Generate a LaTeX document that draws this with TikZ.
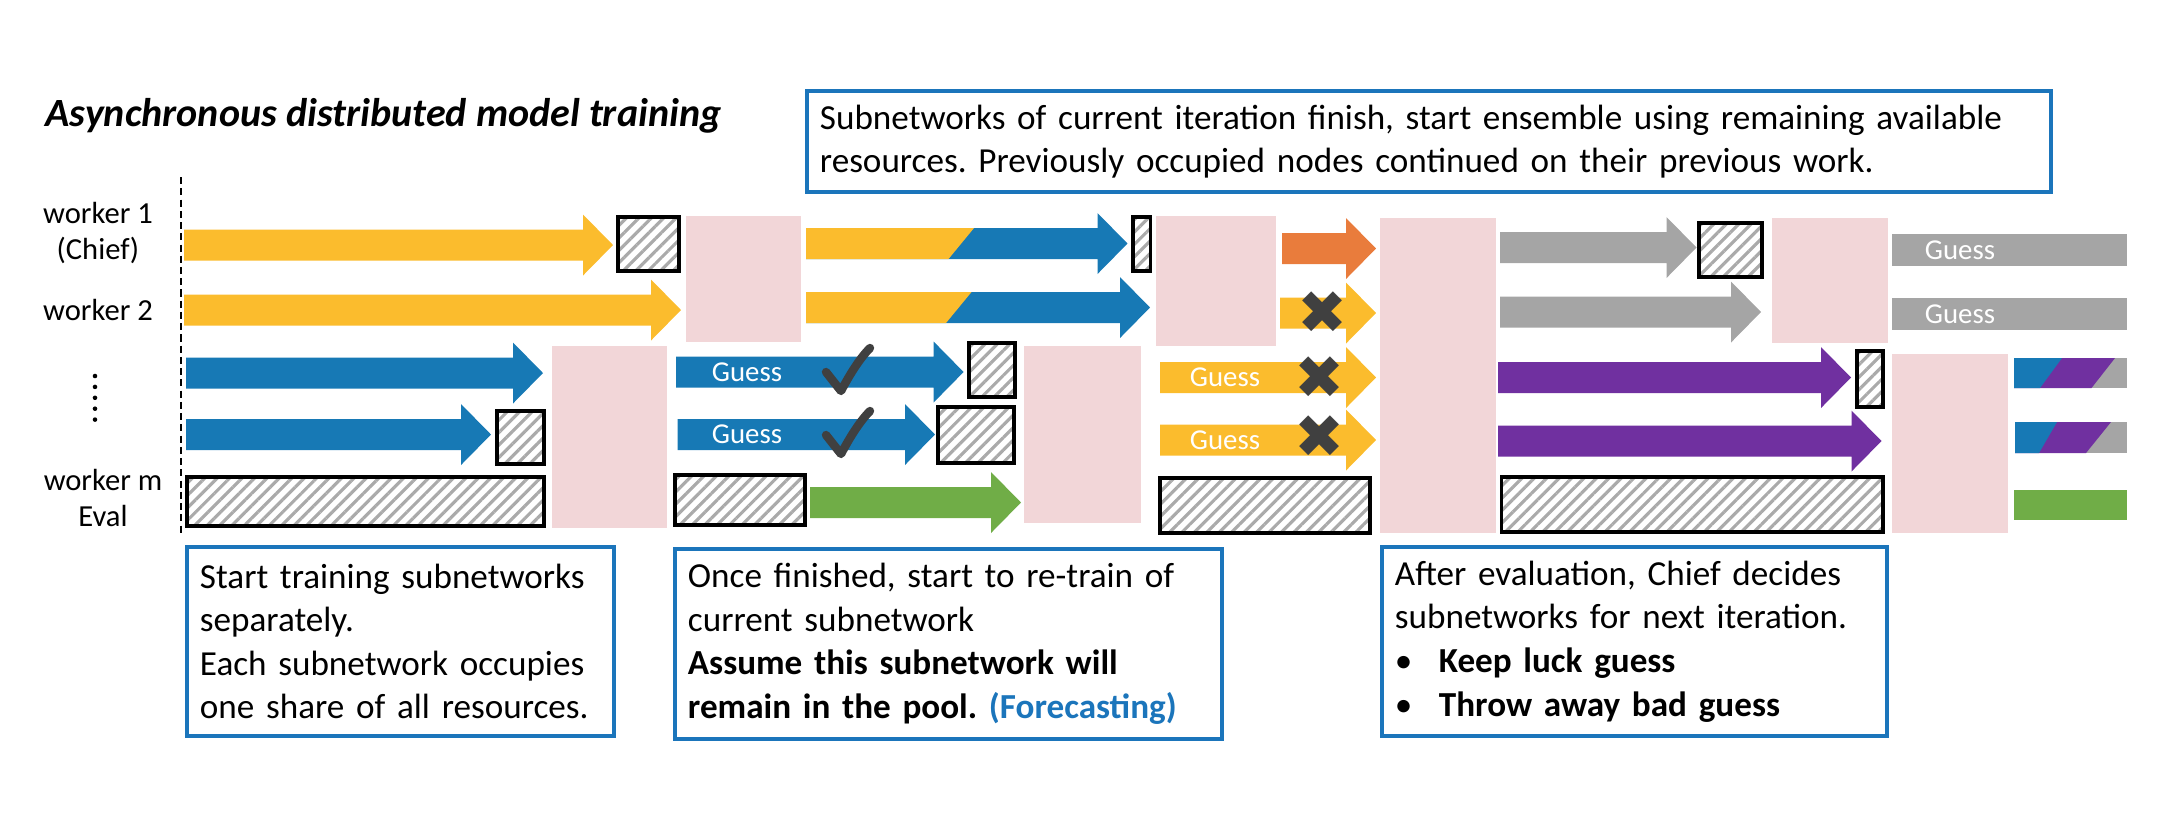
\documentclass[tikz,border=0pt]{standalone}
\usepackage{fontspec}
\setmainfont{Carlito}
\newfontfamily\symfont{DejaVu Sans}
\usepackage{xcolor}
\usepackage{tikz}
\usetikzlibrary{patterns.meta}
\definecolor{trainyellow}{HTML}{FBBC2D}
\definecolor{trainblue}{HTML}{1779B5}
\definecolor{trainorange}{HTML}{E97C3C}
\definecolor{traingreen}{HTML}{70AD47}
\definecolor{trainpurple}{HTML}{7030A0}
\definecolor{traingray}{HTML}{A5A5A5}
\definecolor{idlepink}{HTML}{F2D6D8}
\definecolor{boxblue}{HTML}{1B75BB}
\definecolor{markgray}{HTML}{404040}
\definecolor{hatchgray}{HTML}{AAAAAA}
\frenchspacing
\hyphenpenalty=10000
% colour, start x, tip x, centre y
\newcommand{\blockarrow}[4]{%
  \fill[#1] (#2,#4-15.5) -- (#3-30,#4-15.5) -- (#3-30,#4-30.5) -- (#3,#4)
    -- (#3-30,#4+30.5) -- (#3-30,#4+15.5) -- (#2,#4+15.5) -- cycle;}
% start x, tip x, centre y, split at top, split at bottom
\newcommand{\splitarrow}[5]{%
  \blockarrow{trainblue}{#1}{#2}{#3}
  \fill[trainyellow] (#1,#3-15.5) -- (#4,#3-15.5) -- (#5,#3+15.5) -- (#1,#3+15.5) -- cycle;}
% tick mark, left end x, top of left end y
\newcommand{\tickmark}[2]{%
  \draw[markgray, line width=2.4pt, line cap=round, line join=round]
    (#1,#2) -- (#1+15,#2+19) .. controls (#1+25,#2) and (#1+35,#2-15) .. (#1+44,#2-24);}

\begin{document}
\begin{tikzpicture}[x=0.1mm, y=-0.1mm,
  idle/.style={fill=idlepink},
  hatch/.style={draw=black, line width=1pt,
                pattern={Lines[angle=45, distance=2.5pt, line width=0.9pt]}, pattern color=hatchgray},
  infobox/.style={draw=boxblue, line width=1.1pt, anchor=north west, align=left,
                  inner xsep=1.3mm, font=\fontsize{10}{12.4}\selectfont},
  wlabel/.style={align=center, inner sep=0pt, font=\fontsize{8.7}{10.5}\selectfont},
  guess/.style={text=white, inner sep=0pt, font=\fontsize{8.2}{9}\selectfont},
  nomark/.style={text=markgray, inner sep=0pt, font=\symfont\fontsize{17}{17}\selectfont}
]
\useasboundingbox (0,0) rectangle (2166,832);

\node[anchor=base west, inner sep=0pt, font=\fontsize{11.4}{13}\selectfont\bfseries\itshape] (title)
  at (45,126) {Asynchronous distributed model training};

\draw[line width=0.5pt, dash pattern=on 2pt off 1.2pt] (181,177) -- (181,535);
\node[wlabel] (w1) at (98,233) {worker 1\\(Chief)};
\node[wlabel] (w2) at (98,310) {worker 2};
\draw[line width=1.3pt, line cap=round, dash pattern=on 0pt off 3.1pt] (95,376) -- (95,421);
\node[wlabel] (wm) at (103,498) {worker m\\Eval};

% first round
\blockarrow{trainyellow}{184}{613}{245}
\draw[hatch] (618,217) rectangle (679,271);
\blockarrow{trainyellow}{184}{681}{310}
\blockarrow{trainblue}{186}{543}{373}
\blockarrow{trainblue}{186}{491}{434.5}
\draw[hatch] (497,411) rectangle (544,464);
\draw[hatch] (187,477) rectangle (544,526);
\fill[idle] (552,346) rectangle (667,528);
\fill[idle] (686,216) rectangle (801,342);

% re-train while waiting
\splitarrow{806}{1127.5}{243.5}{974}{948.5}
\draw[hatch] (1133,217) rectangle (1150.5,271);
\splitarrow{806}{1150}{307.5}{971.5}{946}
\blockarrow{trainblue}{676}{963.6}{372}
\node[guess] (g3) at (747,372) {Guess};
\tickmark{826}{372}
\draw[hatch] (969,343) rectangle (1015,397);
\blockarrow{trainblue}{677.5}{935}{434.5}
\node[guess] (g4) at (747,434.5) {Guess};
\tickmark{826}{435}
\draw[hatch] (938,407) rectangle (1014,463);
\draw[hatch] (675,475) rectangle (805,525);
\blockarrow{traingreen}{810}{1021}{502.5}
\fill[idle] (1024,346) rectangle (1141,523);
\fill[idle] (1156,216) rectangle (1275.5,346);

% ensemble
\blockarrow{trainorange}{1282}{1376}{248.5}
\blockarrow{trainyellow}{1280}{1376}{313}
\node[nomark] (no2) at (1323,313) {✖};
\blockarrow{trainyellow}{1160}{1376}{377.5}
\node[guess] (g5) at (1225,377.5) {Guess};
\node[nomark] (no3) at (1320,378) {✖};
\blockarrow{trainyellow}{1160}{1376}{440}
\node[guess] (g6) at (1225,440) {Guess};
\node[nomark] (no4) at (1320,437) {✖};
\draw[hatch] (1160,478) rectangle (1370,533);
\fill[idle] (1380,218) rectangle (1496,533);

% next iteration
\blockarrow{traingray}{1500}{1696.5}{247.5}
\draw[hatch] (1699,223) rectangle (1762,277);
\blockarrow{traingray}{1500}{1761}{312}
\blockarrow{trainpurple}{1498}{1851}{377.5}
\draw[hatch] (1857,351) rectangle (1883,407);
\blockarrow{trainpurple}{1498}{1881.5}{441}
\draw[hatch] (1501.5,477) rectangle (1883,532);
\fill[idle] (1772,218) rectangle (1888,343);
\fill[idle] (1892,354) rectangle (2008,533);

\fill[traingray] (1892,234) rectangle (2127,266);
\node[guess] (g7) at (1960,250) {Guess};
\fill[traingray] (1892,298) rectangle (2127,330);
\node[guess] (g8) at (1960,314) {Guess};
\fill[traingray] (2014,358) rectangle (2127,388);
\fill[trainpurple] (2014,358) -- (2115,358) -- (2091.5,388) -- (2014,388) -- cycle;
\fill[trainblue] (2014,358) -- (2062,358) -- (2040,388) -- (2014,388) -- cycle;
\fill[traingray] (2015,422) rectangle (2127,453);
\fill[trainpurple] (2015,422) -- (2111,422) -- (2086,453) -- (2015,453) -- cycle;
\fill[trainblue] (2015,422) -- (2057,422) -- (2039,453) -- (2015,453) -- cycle;
\fill[traingreen] (2014,490) rectangle (2127,520);

% notes
\node[infobox, text width=121.8mm, minimum height=10.1mm] (finish) at (805,89)
  {Subnetworks of current iteration finish, start ensemble using remaining available\\
   resources. Previously occupied nodes continued on their previous work.};
\node[infobox, text width=40.1mm, minimum height=18.9mm] (start) at (185,545)
  {Start training subnetworks\\separately.\\Each subnetwork occupies\\one share of all resources.};
\node[infobox, text width=52.1mm, minimum height=19mm] (retrain) at (673,547)
  {Once finished, start to re-train of\\current subnetwork\\
   \textbf{Assume this subnetwork will}\\
   \textbf{remain in the pool. \textcolor{boxblue}{(Forecasting)}}};
\node[infobox, text width=47.9mm, minimum height=18.9mm] (decide) at (1380,545)
  {After evaluation, Chief decides\\subnetworks for next iteration.\\
   \makebox[4.4mm][l]{\textbullet}\textbf{Keep luck guess}\\
   \makebox[4.4mm][l]{\textbullet}\textbf{Throw away bad guess}};
\end{tikzpicture}
\end{document}
